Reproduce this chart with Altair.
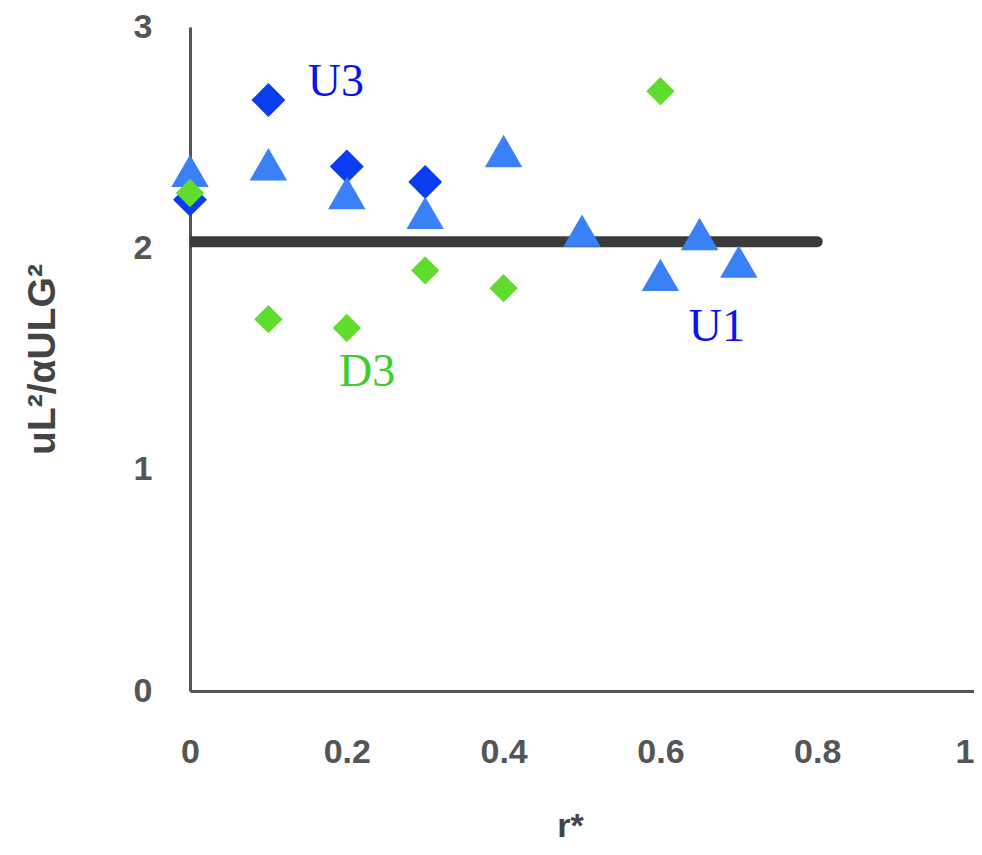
import altair as alt
import pandas as pd

# U3 series (dark blue diamonds)
u3_x = [0.0, 0.1, 0.2, 0.3]
u3_y = [2.22, 2.67, 2.37, 2.30]
# U1 series (light blue triangles)
u1_x = [0.0, 0.1, 0.2, 0.3, 0.4, 0.5, 0.6, 0.65, 0.7]
u1_y = [2.35, 2.38, 2.25, 2.16, 2.44, 2.08, 1.88, 2.065, 1.94]
# D3 series (green diamonds)
d3_x = [0.0, 0.1, 0.2, 0.3, 0.4, 0.6]
d3_y = [2.25, 1.68, 1.64, 1.90, 1.82, 2.71]
# reference level line
ref_x = [0.0, 0.8]
ref_y = [2.03, 2.03]
# series labels
label_text = ["U3", "U1", "D3"]
label_x = [0.186, 0.672, 0.226]
label_y = [2.75, 1.645, 1.44]
label_color = ["#0a14ee", "#0a14ee", "#3fcc2e"]
# axes
x_ticks = [0, 0.2, 0.4, 0.6, 0.8, 1]
y_ticks = [0, 1, 2, 3]

u3 = pd.DataFrame({"x": u3_x, "y": u3_y})
u1 = pd.DataFrame({"x": u1_x, "y": u1_y})
d3 = pd.DataFrame({"x": d3_x, "y": d3_y})
ref = pd.DataFrame({"x": ref_x, "y": ref_y})
labels = pd.DataFrame({"t": label_text, "x": label_x, "y": label_y, "c": label_color})

xs = alt.Scale(domain=[0, 1], nice=False)
ys = alt.Scale(domain=[0, 3], nice=False)

x_axis = alt.Axis(values=x_ticks, format=".1~f", title="r*", grid=False, ticks=False,
                  labelPadding=44, labelFontSize=34, titleFontSize=34,
                  labelAlign={"condition": {"test": "datum.value == 1", "value": "right"}, "value": "center"},
                  titleX=380, titleY=145, titleBaseline="alphabetic", titleAlign="center")
y_axis = alt.Axis(values=y_ticks, format="d", title="uL²/αULG²", grid=False, ticks=False,
                  labelPadding=38, labelFontSize=34, titleFontSize=39,
                  titleX=-148, titleY=332, titleBaseline="middle", titleAlign="center")

base_x = alt.X("x:Q", scale=xs, axis=x_axis)
base_y = alt.Y("y:Q", scale=ys, axis=y_axis)

line = alt.Chart(ref).mark_line(color="#3a3a3a", strokeWidth=11, strokeCap="round", clip=True).encode(
    x=base_x, y=base_y)

u3_pts = alt.Chart(u3).mark_point(shape="diamond", filled=True, size=1150, color="#0a3cf0", opacity=1).encode(
    x=alt.X("x:Q", scale=xs), y=alt.Y("y:Q", scale=ys))
u1_pts = alt.Chart(u1).mark_point(shape="triangle-up", filled=True, size=1400, color="#3a80f6", opacity=1).encode(
    x=alt.X("x:Q", scale=xs), y=alt.Y("y:Q", scale=ys))
d3_pts = alt.Chart(d3).mark_point(shape="diamond", filled=True, size=800, color="#5fdc2c", opacity=1).encode(
    x=alt.X("x:Q", scale=xs), y=alt.Y("y:Q", scale=ys))

txt = alt.Chart(labels).mark_text(font="Liberation Serif", fontSize=46, align="center", baseline="middle").encode(
    x=alt.X("x:Q", scale=xs), y=alt.Y("y:Q", scale=ys), text="t:N",
    color=alt.Color("c:N", scale=None))

chart = alt.layer(line, u3_pts, u1_pts, d3_pts, txt).properties(
    width=784, height=664,
    autosize=alt.AutoSizeParams(type="none"),
    padding={"left": 182, "top": 19, "right": 0, "bottom": 156},
).configure_view(stroke=None).configure_axis(
    domainColor="#555555", domainWidth=3,
    labelColor="#555555", labelFont="Liberation Sans", labelFontWeight="bold",
    titleColor="#444444", titleFont="Liberation Sans", titleFontWeight="bold",
)

chart.save("out.html", embed_options={"renderer": "svg", "actions": False})
